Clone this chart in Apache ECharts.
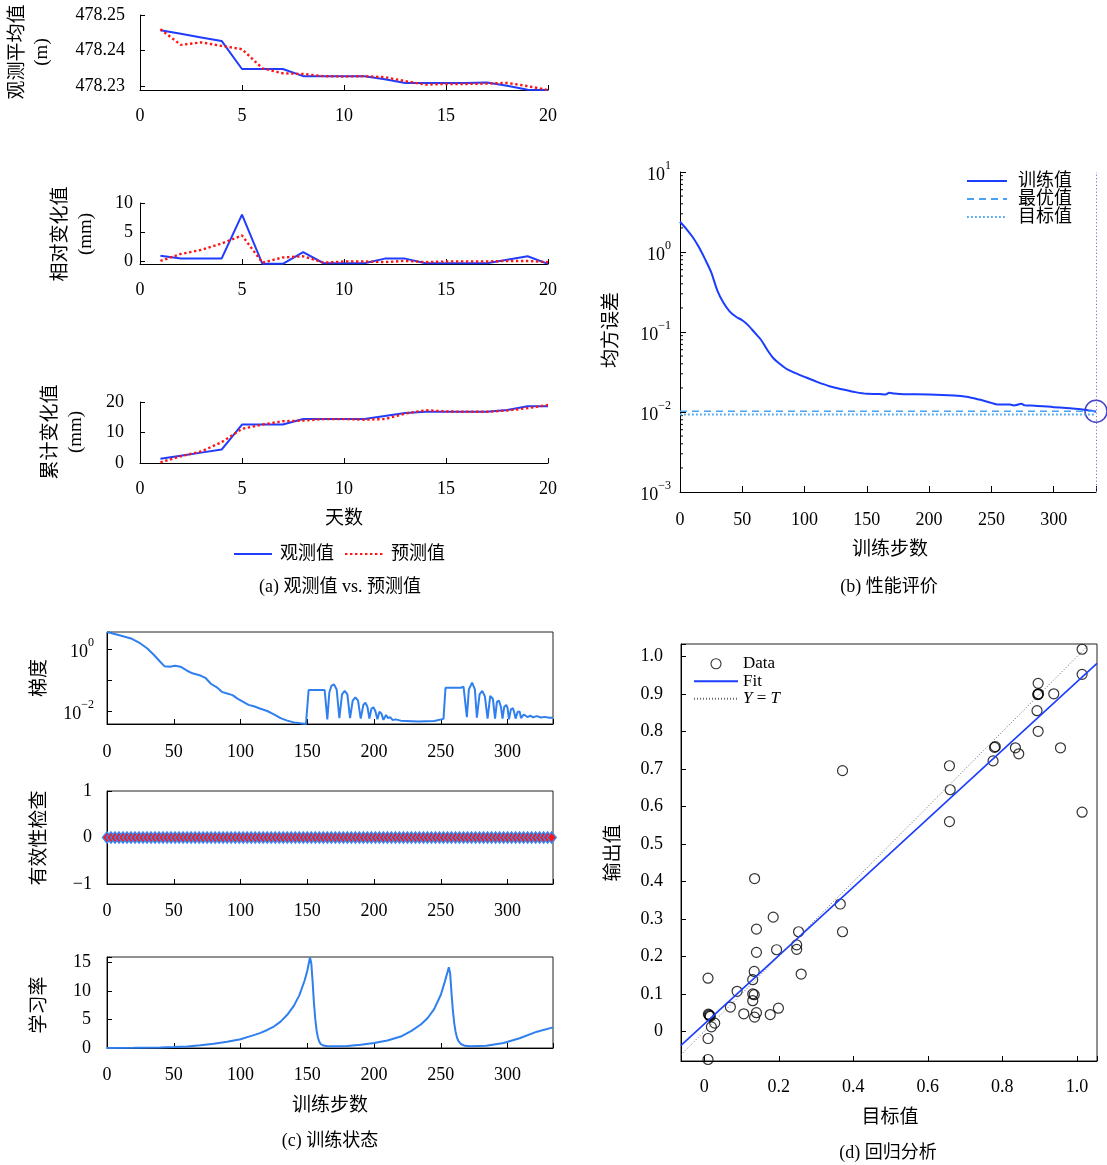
<!DOCTYPE html>
<html><head><meta charset="utf-8">
<script src="https://cdn.jsdelivr.net/npm/echarts@6/dist/echarts.min.js"></script>
<style>html,body{margin:0;padding:0;background:#fff}#c{width:1107px;height:1165px}</style>
</head><body><div id="c"></div>
<script>
// ---------------- DATA ----------------
const days = [1,2,3,4,5,6,7,8,9,10,11,12,13,14,15,16,17,18,19,20];
const meanObs  = [478.2457,478.2447,478.2437,478.2427,478.2348,478.2348,478.2348,478.2328,478.2328,478.2328,478.2328,478.2319,478.2309,478.2309,478.2309,478.2309,478.2310,478.2301,478.2290,478.2289];
const meanPred = [478.2460,478.2416,478.2423,478.2413,478.2404,478.2350,478.2336,478.2334,478.2328,478.2327,478.2328,478.2325,478.2314,478.2304,478.2306,478.2306,478.2307,478.2309,478.2300,478.2289];
const relObs   = [0.9,0.4,0.4,0.4,8.0,-0.5,-0.5,1.5,-0.4,-0.4,-0.4,0.4,0.4,-0.4,-0.4,-0.4,-0.4,0.2,0.8,-0.5];
const relPred  = [0.0,1.2,1.9,3.0,4.4,-0.3,0.6,0.8,-0.3,-0.1,-0.1,-0.2,0.0,-0.2,-0.1,-0.1,-0.1,0.0,0.0,-0.2];
const cumObs   = [1.4,2.4,3.4,4.4,12.6,12.6,12.6,14.4,14.4,14.4,14.4,15.4,16.4,16.8,16.8,16.8,16.8,17.4,18.6,18.6];
const cumPred  = [0.2,2.2,3.8,6.8,11.2,12.6,13.7,13.9,14.4,14.4,14.2,14.4,16.2,17.3,16.9,16.8,16.8,17.2,18.0,19.0];

const maxEpoch = 334;
const perfTrain = [[0,2.39],[5,1.95],[10,1.55],[15,1.16],[20,0.82],[25,0.56],[30,0.33],[35,0.23],[40,0.18],[45,0.155],[50,0.14],[55,0.12],[60,0.098],[65,0.08],[70,0.06],[75,0.047],[80,0.04],[85,0.035],[90,0.032],[100,0.0275],[110,0.0238],[120,0.021],[130,0.0192],[140,0.0178],[150,0.0169],[160,0.0168],[165,0.0166],[168,0.0174],[172,0.017],[180,0.0167],[200,0.0166],[220,0.0161],[230,0.0155],[240,0.0143],[250,0.013],[255,0.0124],[265,0.0124],[268,0.0121],[270,0.0122],[274,0.0127],[277,0.0121],[285,0.012],[300,0.0115],[310,0.0112],[320,0.0109],[330,0.0104],[334,0.0101]];
const bestPerf = 0.0102;
const goalPerf = 0.0093;
const bestEpoch = 334;

const gradient = [[0,3.5],[10,2.7],[18,2.17],[25,1.5],[30,1.05],[35,0.65],[40,0.38],[43,0.28],[47,0.27],[51,0.29],[55,0.27],[60,0.2],[64,0.165],[70,0.14],[74,0.115],[78,0.075],[82,0.06],[86,0.042],[90,0.037],[94,0.033],[98,0.025],[102,0.02],[106,0.016],[110,0.0145],[115,0.012],[120,0.0102],[125,0.008],[130,0.006],[135,0.005],[140,0.0044],[145,0.0041],[149,0.0039],[151,0.048],[163,0.048],[164,0.053],[165,0.0055],[166.5,0.04],[168,0.065],[170,0.073],[172,0.05],[174,0.006],[176,0.035],[178,0.045],[180,0.035],[182,0.006],[184,0.022],[186,0.028],[188,0.022],[190,0.0058],[192,0.016],[193.5,0.019],[195,0.014],[196.5,0.0058],[198,0.012],[199.5,0.0134],[201,0.01],[202.5,0.0055],[204,0.0097],[205.5,0.0085],[207,0.0053],[209,0.0076],[210.5,0.006],[212,0.0065],[214,0.0052],[216,0.0055],[220,0.005],[233,0.0047],[245,0.0049],[252,0.0057],[253.5,0.057],[265,0.057],[267,0.062],[269.5,0.0065],[271,0.05],[273.4,0.083],[275.5,0.05],[277,0.0062],[279,0.035],[281,0.045],[283,0.03],[285,0.0058],[287,0.031],[289,0.025],[290.6,0.0058],[292,0.02],[293.5,0.022],[295,0.014],[296.2,0.0058],[297.5,0.014],[299,0.016],[300,0.0125],[301,0.0055],[302.5,0.0115],[304,0.0125],[305,0.009],[306,0.0058],[307.5,0.0095],[309,0.0099],[310,0.006],[312,0.0078],[313.5,0.0072],[315,0.0065],[317,0.0072],[319,0.0064],[322,0.007],[325,0.0063],[328,0.0066],[331,0.0062],[334,0.0062]];

const validEvery = 3;
const validCheck = [0,0,0,0,0,0,0,0,0,0,0,0,0,0,0,0,0,0,0,0,0,0,0,0,0,0,0,0,
                    0,0,0,0,0,0,0,0,0,0,0,0,0,0,0,0,0,0,0,0,0,0,0,0,0,0,0,0,
                    0,0,0,0,0,0,0,0,0,0,0,0,0,0,0,0,0,0,0,0,0,0,0,0,0,0,0,0,
                    0,0,0,0,0,0,0,0,0,0,0,0,0,0,0,0,0,0,0,0,0,0,0,0,0,0,0,0];

const learnRate = [[0,0.01],[20,0.03],[40,0.1],[50,0.17],[60,0.28],[70,0.48],[80,0.75],[90,1.1],[100,1.54],[105,1.9],[110,2.25],[115,2.65],[120,3.15],[125,3.75],[130,4.6],[135,5.8],[140,7.4],[144,9.2],[148,11.8],[150,13.5],[152,15.8],[153,14.8],[154,11.5],[155,7.8],[156,5.0],[157,3.0],[158,1.8],[159,1.1],[160,0.7],[162,0.42],[165,0.3],[170,0.29],[180,0.36],[190,0.55],[200,0.86],[210,1.3],[220,2.0],[228,3.0],[235,4.1],[240,5.2],[245,6.8],[250,9.3],[253,11.6],[256,14.1],[257,13.0],[258,9.6],[259,6.6],[260,4.4],[261,2.9],[262,1.9],[263,1.3],[265,0.7],[268,0.38],[272,0.29],[284,0.4],[297,0.86],[309,1.7],[322,2.85],[334,3.6]];

const regTarget = [1.014,1.014,1.014,0.896,0.896,0.897,0.895,0.938,0.893,0.896,0.956,0.779,0.781,0.835,0.844,0.775,0.658,0.660,0.658,0.371,1.014,0.135,0.365,0.371,0.185,0.140,0.253,0.140,0.194,0.248,0.248,0.134,0.260,0.130,0.010,0.088,0.130,0.134,0.130,0.070,0.199,0.106,0.140,0.177,0.135,0.013,0.015,0.011,0.016,0.028,0.019,0.010,0.010];
const regOutput = [1.036,1.020,0.953,0.929,0.900,0.901,0.899,0.901,0.856,0.801,0.757,0.758,0.760,0.757,0.741,0.722,0.709,0.645,0.560,0.696,0.585,0.408,0.340,0.266,0.305,0.273,0.266,0.211,0.218,0.231,0.219,0.160,0.153,0.138,0.142,0.107,0.100,0.098,0.082,0.065,0.062,0.047,0.050,0.045,0.038,0.044,0.042,0.046,0.040,0.022,0.012,-0.019,-0.075];
const fitSlope = 0.913, fitIntercept = 0.020;
const regXRange = [-0.0625, 1.054];
const regYRange = [-0.079, 1.034];

// ---------------- STYLE ----------------
const FONT = "'Liberation Serif','Times New Roman','Noto Sans CJK SC',serif";
const BLUE = '#1f3cff', RED = '#ff1414', CBLUE = '#2f7fef';

function multFmt(step, digits) {
  return function (v) {
    const r = v / step;
    if (Math.abs(r - Math.round(r)) > 1e-6) return '';
    const val = Math.round(r) * step;
    return Math.abs(val) < 1e-9 ? '0' : val.toFixed(digits);
  };
}
function logFmt(pred) {
  return function (v) {
    const e = Math.log10(v), k = Math.round(e);
    if (Math.abs(e - k) > 1e-6 || !pred(k)) return '';
    return '{b|10}{s|' + (k < 0 ? '\u2212' + (-k) : String(k)) + '}';
  };
}
const supRich = {
  b: {fontSize: 18, fontFamily: FONT, color: '#000', lineHeight: 24, verticalAlign: 'bottom'},
  s: {fontSize: 12, fontFamily: FONT, color: '#000', lineHeight: 12, verticalAlign: 'top'}
};

function axis(type, grid, o) {
  const a = {
    type: o.logBase ? 'log' : 'value', gridIndex: grid,
    min: o.min, max: o.max,
    axisLine: {show: true, onZero: false, lineStyle: {color: '#000', width: 1}},
    axisTick: {show: true, inside: true, length: o.tickLen || 5, lineStyle: {color: '#000', width: 1}},
    splitLine: {show: false},
    axisLabel: {color: '#000', fontFamily: FONT, fontSize: 18, margin: o.margin || 12,
                formatter: o.fmt, rich: supRich, showMinLabel: true, showMaxLabel: true, hideOverlap: false}
  };
  if (o.logBase) a.logBase = 10;
  if (o.step) { a.minInterval = o.step; a.maxInterval = o.step; }
  if (o.interval) a.interval = o.interval;
  return a;
}

const grids = [
  {left: 140, top: 15, width: 408, height: 75},    // a1
  {left: 140, top: 203, width: 408, height: 61},   // a2
  {left: 140, top: 402, width: 408, height: 61},   // a3
  {left: 680, top: 172, width: 416, height: 320},  // b
  {left: 107, top: 632, width: 446, height: 92, show: true, borderColor: '#222', borderWidth: 1},  // c1
  {left: 107, top: 791, width: 446, height: 93, show: true, borderColor: '#222', borderWidth: 1},  // c2
  {left: 107, top: 957, width: 446, height: 91, show: true, borderColor: '#222', borderWidth: 1},  // c3
  {left: 681, top: 644, width: 416, height: 417, show: true, borderColor: '#222', borderWidth: 1}  // d
].map(g => Object.assign({outerBoundsMode: 'none', containLabel: false}, g));

const xAxes = [
  axis('x', 0, {min: 0, max: 20, interval: 5, fmt: multFmt(5, 0), margin: 17}),
  axis('x', 1, {min: 0, max: 20, interval: 5, fmt: multFmt(5, 0), margin: 17}),
  axis('x', 2, {min: 0, max: 20, interval: 5, fmt: multFmt(5, 0), margin: 17}),
  axis('x', 3, {min: 0, max: maxEpoch, interval: 50, fmt: multFmt(50, 0), margin: 19, tickLen: 6}),
  axis('x', 4, {min: 0, max: maxEpoch, interval: 50, fmt: multFmt(50, 0), margin: 19}),
  axis('x', 5, {min: 0, max: maxEpoch, interval: 50, fmt: multFmt(50, 0), margin: 18}),
  axis('x', 6, {min: 0, max: maxEpoch, interval: 50, fmt: multFmt(50, 0), margin: 18}),
  axis('x', 7, {min: regXRange[0], max: regXRange[1], step: 0.2, fmt: multFmt(0.2, 1), margin: 17})
];
const yAxes = [
  axis('y', 0, {min: 478.2289, max: 478.25, step: 0.01, fmt: multFmt(0.01, 2), margin: 15}),
  axis('y', 1, {min: -0.53, max: 10, step: 5, fmt: multFmt(5, 0), margin: 7}),
  axis('y', 2, {min: 0, max: 20, interval: 10, fmt: multFmt(10, 0), margin: 16}),
  axis('y', 3, {logBase: 10, min: 0.001, max: 10, fmt: logFmt(k => true), margin: 9, tickLen: 6}),
  axis('y', 4, {logBase: 10, min: 0.0039, max: 3.5, fmt: logFmt(k => k % 2 === 0), margin: 13}),
  axis('y', 5, {min: -1, max: 1, interval: 1, fmt: v => (v < 0 ? '\u2212' + (-v) : String(v)), margin: 15}),
  axis('y', 6, {min: 0, max: 15.9, step: 5, fmt: multFmt(5, 0), margin: 16}),
  axis('y', 7, {min: regYRange[0], max: regYRange[1], step: 0.1, fmt: multFmt(0.1, 1), margin: 18})
];

const minorTicks = [];
for (let k = -3; k < 1; k++) for (let m = 2; m <= 9; m++) minorTicks.push([0, m * Math.pow(10, k)]);

function lineS(name, xi, data, color, width, type, extra) {
  return Object.assign({
    name, type: 'line', xAxisIndex: xi, yAxisIndex: xi, data,
    symbol: 'none', showSymbol: false, silent: true, animation: false,
    lineStyle: {color, width, type: type || 'solid'}, itemStyle: {color}
  }, extra || {});
}
const pair = (xs, ys) => xs.map((x, i) => [x, ys[i]]);
const validData = validCheck.map((v, i) => [i * validEvery, v]);
const scatterData = pair(regTarget, regOutput);
const fitLine = regXRange.map(x => [x, fitIntercept + fitSlope * x]);
const yEqT = [[regXRange[0], regXRange[0]], [regYRange[1], regYRange[1]]];

const series = [
  lineS('观测值', 0, pair(days, meanObs), BLUE, 2),
  lineS('预测值', 0, pair(days, meanPred), RED, 2.4, [2.4, 2.6]),
  lineS('观测值', 1, pair(days, relObs), BLUE, 2),
  lineS('预测值', 1, pair(days, relPred), RED, 2.4, [2.4, 2.6]),
  lineS('观测值', 2, pair(days, cumObs), BLUE, 2),
  lineS('预测值', 2, pair(days, cumPred), RED, 2.4, [2.4, 2.6]),
  lineS('训练值', 3, perfTrain, '#1a3dff', 2, 'solid', {smooth: 0.3}),
  lineS('最优值', 3, [[0, bestPerf], [maxEpoch, bestPerf]], '#4aa3f2', 1.5, [7, 5]),
  lineS('目标值', 3, [[0, goalPerf], [maxEpoch, goalPerf]], '#55aaf2', 1.8, [1.8, 2.2]),
  {type: 'scatter', xAxisIndex: 3, yAxisIndex: 3, data: [[bestEpoch, bestPerf]], symbol: 'circle', symbolSize: 22,
   silent: true, animation: false, itemStyle: {color: 'rgba(0,0,0,0)', borderColor: '#1515b5', borderWidth: 1.5},
   markLine: {silent: true, symbol: 'none', animation: false, label: {show: false},
              lineStyle: {color: '#6f6fe8', width: 1, type: [1.2, 2.2]}, data: [{xAxis: bestEpoch}]}},
  {type: 'custom', xAxisIndex: 3, yAxisIndex: 3, data: minorTicks, silent: true, animation: false, clip: false,
   renderItem: function (params, api) {
     const p = api.coord([0, api.value(1)]);
     return {type: 'line', shape: {x1: p[0], y1: p[1], x2: p[0] + 3, y2: p[1]}, style: {stroke: '#000', lineWidth: 1}};
   }},
  lineS('梯度', 4, gradient, CBLUE, 2),
  lineS('有效性检查', 5, validData, CBLUE, 1, 'solid', {symbol: 'diamond', showSymbol: true, symbolSize: [9, 11],
        itemStyle: {color: RED, borderColor: '#3b86f2', borderWidth: 1.5}}),
  lineS('学习率', 6, learnRate, CBLUE, 2),
  {name: 'Data', type: 'scatter', xAxisIndex: 7, yAxisIndex: 7, data: scatterData, symbol: 'circle', symbolSize: 10,
   silent: true, animation: false, itemStyle: {color: 'rgba(0,0,0,0)', borderColor: '#000', borderWidth: 1.2}},
  lineS('Fit', 7, fitLine, '#1a3dff', 1.6),
  lineS('Y = T', 7, yEqT, '#666', 1, [1, 2])
];

const hideSym = {opacity: 0};
const legends = [
  {data: [{name: '观测值', itemStyle: hideSym}, {name: '预测值', itemStyle: hideSym}], left: 233, top: 545, itemWidth: 38, itemHeight: 12, itemGap: 10,
   textStyle: {fontFamily: FONT, fontSize: 18, color: '#000', padding: [0, 0, 0, 3]}},
  {data: [{name: '训练值', itemStyle: hideSym}, {name: '最优值', itemStyle: hideSym}, {name: '目标值', itemStyle: hideSym}],
   left: 966, top: 172, orient: 'vertical', itemWidth: 40, itemHeight: 10, itemGap: 0,
   textStyle: {fontFamily: FONT, fontSize: 18, lineHeight: 18, color: '#000', padding: [0, 0, 0, 6]}},
  {data: [{name: 'Data', itemStyle: {color: 'rgba(0,0,0,0)', borderColor: '#000', borderWidth: 1.1}},
          {name: 'Fit', itemStyle: hideSym}, {name: 'Y = T', itemStyle: hideSym}],
   left: 693, top: 655, orient: 'vertical', itemWidth: 44, itemHeight: 10, itemGap: 0,
   formatter: n => n === 'Y = T' ? '{i|Y} = {i|T}' : n,
   textStyle: {fontFamily: FONT, fontSize: 17, lineHeight: 17.5, color: '#000',
               rich: {i: {fontFamily: FONT, fontSize: 17, fontStyle: 'italic', color: '#000'}}}}
].map(l => Object.assign({selectedMode: false, padding: 0}, l));

function gtext(x, y, text, size, rot, lh) {
  const t = {type: 'text', x, y, silent: true,
    style: {text, fontFamily: FONT, fontSize: size, fill: '#000', align: 'center', verticalAlign: 'middle', lineHeight: lh || size + 4}};
  if (rot) t.rotation = Math.PI / 2;
  return t;
}
const graphics = [
  gtext(30, 52, '观测平均值\n(m)', 19, true, 24),
  gtext(74, 234, '相对变化值\n(mm)', 19, true, 25),
  gtext(64, 432, '累计变化值\n(mm)', 19, true, 25),
  gtext(344, 519, '天数', 19),
  gtext(340, 587, '(a) 观测值 vs. 预测值', 18),
  gtext(612, 330, '均方误差', 19, true),
  gtext(890, 550, '训练步数', 19),
  gtext(889, 587, '(b) 性能评价', 18),
  gtext(40, 678, '梯度', 19, true),
  gtext(40, 838, '有效性检查', 19, true),
  gtext(40, 1005, '学习率', 19, true),
  gtext(330, 1106, '训练步数', 19),
  gtext(330, 1141, '(c) 训练状态', 18),
  gtext(614, 853, '输出值', 19, true),
  gtext(890, 1118, '目标值', 19),
  gtext(888, 1153, '(d) 回归分析', 18)
];

const chart = echarts.init(document.getElementById('c'), null, {renderer: 'canvas'});
chart.setOption({
  backgroundColor: '#fff',
  animation: false,
  grid: grids, xAxis: xAxes, yAxis: yAxes,
  legend: legends, series, graphic: graphics
});
</script></body></html>
